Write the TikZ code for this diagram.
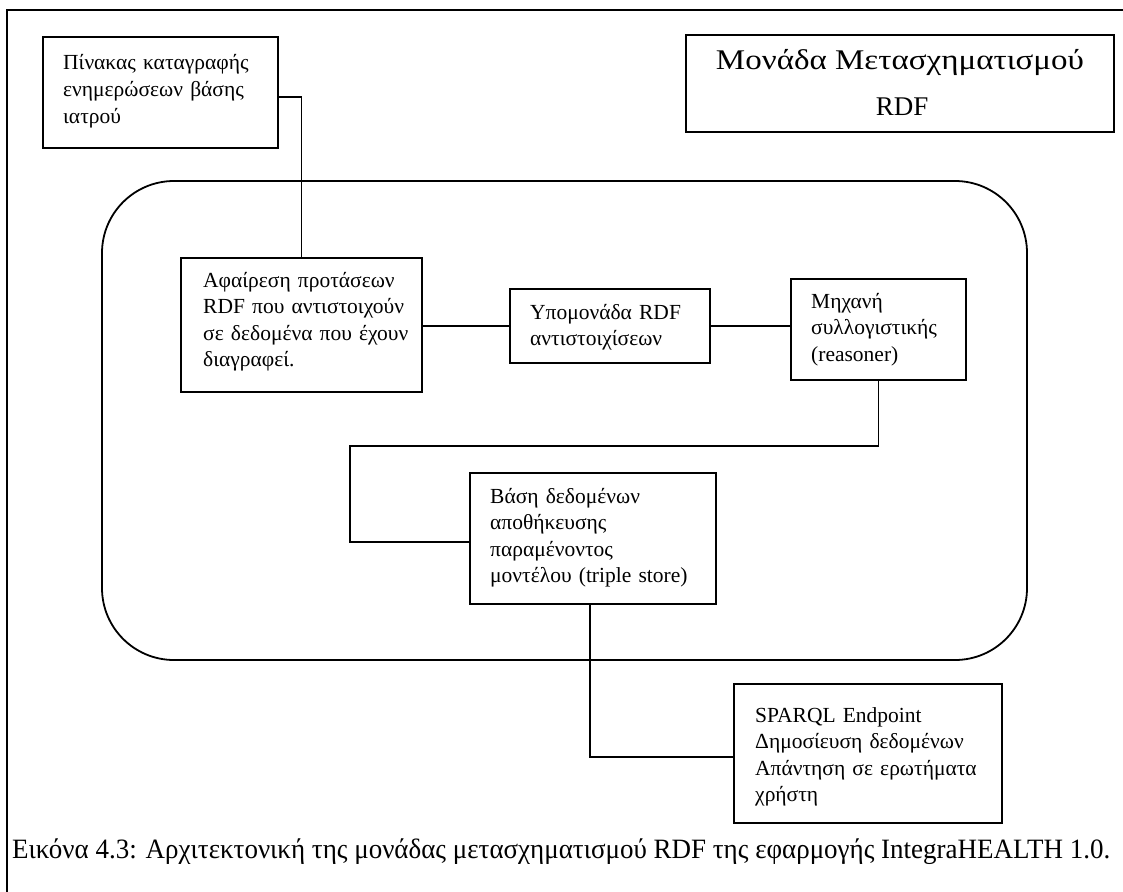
\documentclass[tikz,border=0pt]{standalone}
\usepackage{fontspec}
\setmainfont{Liberation Serif}
\usepackage{graphicx}
\usetikzlibrary{calc}
\begin{document}
\begin{tikzpicture}[x=1pt,y=-1pt,
  box/.style={draw,line width=1.8pt,rectangle,inner sep=0pt},
  boxtext/.style={anchor=base west,inner sep=0pt,align=left,text width=240pt,
    font=\fontsize{21.5}{26.5}\selectfont},
  wire/.style={line width=1.8pt}]
\clip (0,0) rectangle (1123,891);
\fill[white] (0,0) rectangle (1123,891);
% outer frame
\draw[line width=2.4pt] (7,10) rectangle (1140,910);
% module boundary
\draw[line width=1.8pt, rounded corners=72pt] (102,181) rectangle (1027,660);
% title
\node[box,minimum width=428pt,minimum height=97pt] (title) at (900,83.5) {};
\node[anchor=base,inner sep=0pt] (t1) at (900,69)
  {\resizebox{368pt}{\height}{\fontsize{28.5}{30}\selectfont Μονάδα Μετασχηματισμού}};
\node[anchor=base,inner sep=0pt,font=\fontsize{27}{30}\selectfont] (t2) at (902,115) {RDF};
% components
\node[box,minimum width=235pt,minimum height=111pt] (n1) at (160.5,92.5) {};
\node[boxtext] (n1t) at (63,70) {Πίνακας καταγραφής\\ενημερώσεων βάσης\\ιατρού};
\node[box,minimum width=241pt,minimum height=134pt] (n2) at (301.5,325) {};
\node[boxtext] (n2t) at (203,287) {Αφαίρεση προτάσεων\\RDF που αντιστοιχούν\\σε δεδομένα που έχουν\\διαγραφεί.};
\node[box,minimum width=200pt,minimum height=74pt] (n3) at (610,326) {};
\node[boxtext] (n3t) at (530,319) {Υπομονάδα RDF\\αντιστοιχίσεων};
\node[box,minimum width=175pt,minimum height=101pt] (n4) at (878.5,329.5) {};
\node[boxtext] (n4t) at (811,308) {Μηχανή\\συλλογιστικής\\(reasoner)};
\node[box,minimum width=246pt,minimum height=131pt] (n5) at (593,538.5) {};
\node[boxtext] (n5t) at (490,503) {Βάση δεδομένων\\αποθήκευσης\\παραμένοντος\\μοντέλου (triple store)};
\node[box,minimum width=268pt,minimum height=139pt] (n6) at (868,753.5) {};
\node[boxtext] (n6t) at (755,722) {SPARQL Endpoint\\Δημοσίευση δεδομένων\\Απάντηση σε ερωτήματα\\χρήστη};
% connectors
\coordinate (b1) at (350,446);
\draw[wire] ([yshift=-4.5pt]n1.east) -| (n2.north);
\draw[wire] (n2.east |- n3.west) -- (n3.west);
\draw[wire] (n3.east) -- (n4.west |- n3.east);
\draw[wire] (n4.south) |- (b1) |- ([yshift=-3.5pt]n5.west);
\draw[wire] ([xshift=-3pt]n5.south) |- ([yshift=-3.5pt]n6.west);
% caption
\node[anchor=base west,inner sep=0pt] (cap) at (12,858)
  {\resizebox{1098pt}{\height}{\fontsize{28}{30}\selectfont Εικόνα 4.3: Αρχιτεκτονική της μονάδας μετασχηματισμού RDF της εφαρμογής IntegraHEALTH 1.0.}};
\end{tikzpicture}
\end{document}
